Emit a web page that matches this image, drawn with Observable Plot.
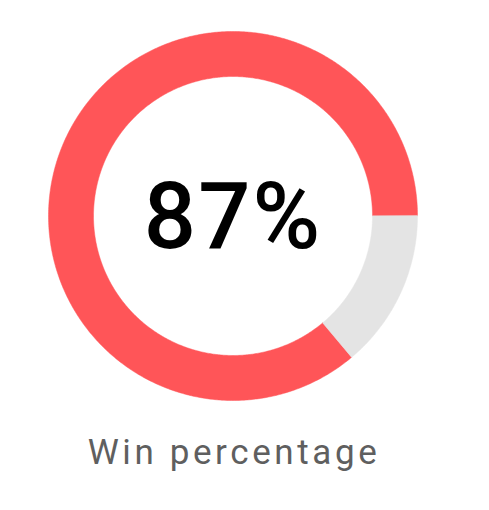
<!DOCTYPE html>
<html>
<head>
<meta charset="utf-8">
<script src="https://cdn.jsdelivr.net/npm/d3@7"></script>
<script src="https://cdn.jsdelivr.net/npm/@observablehq/plot@0.6"></script>
<style>
  html, body { margin: 0; padding: 0; background: #fff; }
  #chart { width: 489px; height: 510px; }
</style>
</head>
<body>
<div id="chart"></div>
<script>
// Data
const categories = ["Win", "Loss"];
const values = [86.1, 13.9];
const colors = ["#FF5558", "#E4E4E4"];
const centerLabel = "87%";
const caption = "Win percentage";

// Geometry (unit radius space)
const innerRatio = 139.5 / 184.5;
const startAngle = 140; // degrees clockwise from 12 o'clock where "Win" starts
const total = d3.sum(values);

const points = [];
let acc = startAngle;
categories.forEach((c, i) => {
  const a0 = acc, a1 = acc + values[i] / total * 360;
  acc = a1;
  const n = Math.max(8, Math.ceil((a1 - a0) * 2));
  const ring = [];
  for (let k = 0; k <= n; k++) ring.push({a: a0 + (a1 - a0) * k / n, r: 1});
  for (let k = n; k >= 0; k--) ring.push({a: a0 + (a1 - a0) * k / n, r: innerRatio});
  ring.forEach(p => {
    const t = p.a * Math.PI / 180;
    points.push({cat: c, x: p.r * Math.sin(t), y: p.r * Math.cos(t)});
  });
});

const chart = Plot.plot({
  width: 489,
  height: 510,
  margin: 0,
  x: {domain: [-1, 1], range: [48, 417], axis: null},
  y: {domain: [-1, 1], range: [400, 31], axis: null},
  color: {domain: categories, range: colors},
  style: {background: "#fff"},
  marks: [
    Plot.line(points, {x: "x", y: "y", z: "cat", fill: "cat", stroke: "cat", strokeWidth: 0.5, curve: "linear-closed"}),
    Plot.text([centerLabel], {x: () => 0, y: () => 0, text: d => d, fontSize: 92, fontWeight: 500, fill: "#000", fontFamily: "Roboto", dy: 3, dx: 0}),
    Plot.text([caption], {x: () => 0, y: () => -1.27, text: d => d, fontSize: 35, fontWeight: 400, fill: "#5f5f5f", fontFamily: "Roboto", dy: 2, dx: 1})
  ]
});
chart.querySelectorAll("text").forEach(t => {
  if (t.textContent === caption) t.setAttribute("letter-spacing", "3.6");
  if (t.textContent === centerLabel) t.setAttribute("letter-spacing", "2");
});
document.getElementById("chart").appendChild(chart);
</script>
</body>
</html>
